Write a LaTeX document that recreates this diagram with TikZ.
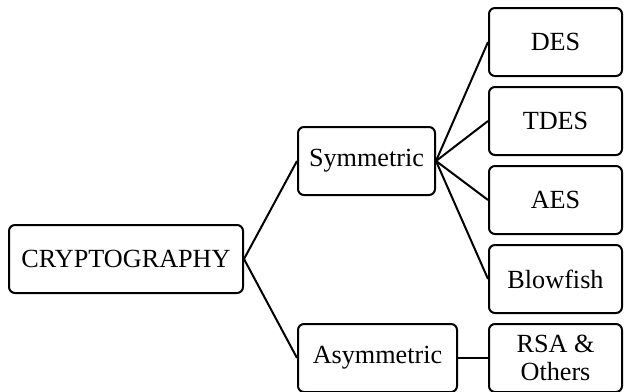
\documentclass[tikz,border=0pt]{standalone}
\usepackage{fontspec}
\setmainfont{Liberation Serif}
\usetikzlibrary{positioning}

\begin{document}
\begin{tikzpicture}[
  x=0.5pt, y=-0.5pt,
  node distance=4.5pt,
  box/.style={rectangle, rounded corners=3pt, draw, line width=1pt, align=center, inner sep=2pt, minimum height=34pt, font=\fontsize{13.1}{13.6}\selectfont},
  algo/.style={box, minimum width=66.5pt},
  link/.style={line width=1pt}
]
\useasboundingbox (0,0) rectangle (624,391);

\node[box, minimum width=117pt] (crypto) at (126,259) {CRYPTOGRAPHY};
\node[box, minimum width=68.5pt] (sym) at (366.5,161) {Symmetric};
\node[box, minimum width=79.5pt] (asym) at (377.5,358) {Asymmetric};

\node[algo] (des) at (555.5,42) {DES};
\node[algo, below=of des] (tdes) {TDES};
\node[algo, below=of tdes] (aes) {AES};
\node[algo, below=of aes] (blow) {Blowfish};
\node[algo, below=of blow] (rsa) {RSA \&\\Others};

\draw[link] (crypto.east) -- (sym.west);
\draw[link] (crypto.east) -- (asym.west);
\draw[link] (sym.east) -- (des.west);
\draw[link] (sym.east) -- (tdes.west);
\draw[link] (sym.east) -- (aes.west);
\draw[link] (sym.east) -- (blow.west);
\draw[link] (asym.east) -- (rsa.west);

\end{tikzpicture}
\end{document}
